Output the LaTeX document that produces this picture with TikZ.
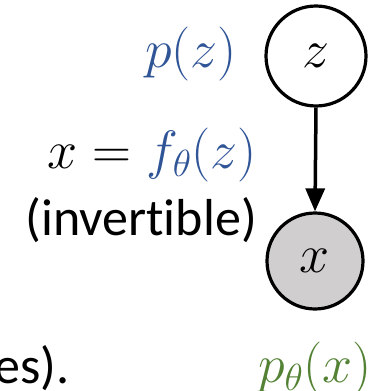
\RequirePackage{fix-cm}
\documentclass[tikz,border=0pt]{standalone}
\usepackage{fontspec}
\newfontfamily\calib[Ligatures=NoCommon]{Carlito}
\usetikzlibrary{arrows.meta}
\definecolor{zblue}{HTML}{2F5597}
\definecolor{xgreen}{HTML}{548235}
\definecolor{xgray}{HTML}{D0CECE}
\tikzset{
  var/.style={circle, draw=black, line width=3.2pt, inner sep=0pt},
  mth/.style={inner sep=0pt, font=\fontsize{54}{60}\selectfont},
  txt/.style={inner sep=0pt, font=\fontsize{52}{60}\selectfont\calib},
  link/.style={line width=3.5pt, -{Triangle[length=23pt,width=19pt]}}
}
\begin{document}
\begin{tikzpicture}[x=1pt,y=-1pt]
\useasboundingbox (0,0) rectangle (372,391);
\clip (0,0) rectangle (372,391);
\node[var, minimum size=100pt, fill=white] (z) at (316,56) {\fontsize{54}{60}\selectfont$z$};
\node[var, minimum size=96pt, fill=xgray] (x) at (315,261) {\fontsize{54}{60}\selectfont$x$};
\draw[link] (z.south) -- (x.north);
\node[mth, anchor=base east, text=zblue] (pz) at (237,67.5) {$p(z)$};
\node[mth, anchor=base east] (fx) at (257,168.5) {$x = \textcolor{zblue}{f_\theta(z)}$};
\node[txt, anchor=base east] (inv) at (257,235) {(invertible)};
\node[txt, anchor=base east] (es) at (70,383) {es).};
\node[mth, anchor=base east, text=xgreen] (px) at (372,382) {$p_\theta(x)$};
\end{tikzpicture}
\end{document}
